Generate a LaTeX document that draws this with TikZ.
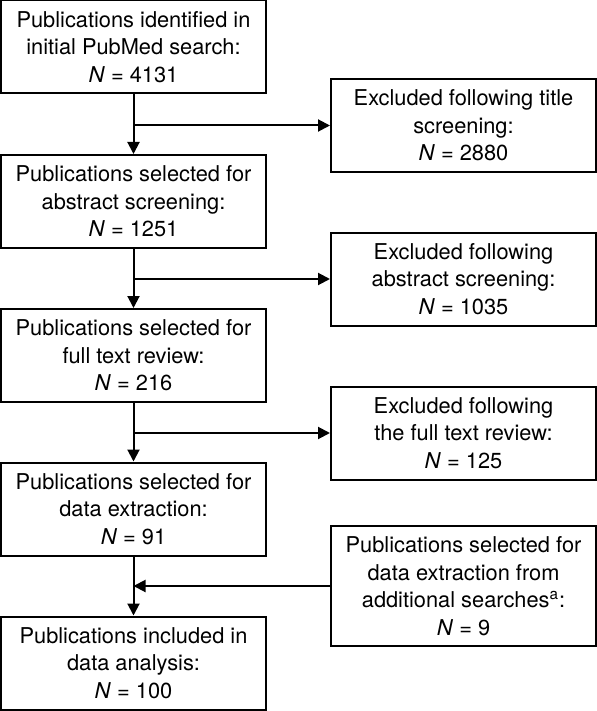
\documentclass[tikz,border=0pt]{standalone}
\usepackage{fontspec}
\setmainfont{TeX Gyre Heros}
\usetikzlibrary{arrows.meta}
\tikzset{
  flowbox/.style={draw, line width=1pt, minimum width=132.5pt, minimum height=46.5pt, inner sep=0pt, align=center, font=\fontsize{10.9}{13.75}\selectfont},
  flowarrow/.style={line width=1pt, -{Triangle[length=6pt,width=6pt]}}
}
\begin{document}
\begin{tikzpicture}[x=0.5pt,y=0.5pt,yscale=-1,xscale=1]
    \useasboundingbox (0,0) rectangle (597,711);

    % Main boxes
    \node[flowbox] (ident) at (133.5,47) {Publications identified in\\initial PubMed search:\\\textit{N} = 4131};
    \node[flowbox] (abstr) at (133.5,201.5) {Publications selected for\\abstract screening:\\\textit{N} = 1251};
    \node[flowbox] (fulltext) at (133.5,355.5) {Publications selected for\\full text review:\\\textit{N} = 216};
    \node[flowbox] (extract) at (133.5,509) {Publications selected for\\data extraction:\\\textit{N} = 91};
    \node[flowbox] (analysis) at (133.5,663) {Publications included in\\data analysis:\\\textit{N} = 100};

    % Side boxes
    \node[flowbox] (exctitle) at (463.5,125.5) {Excluded following title\\screening:\\\textit{N} = 2880};
    \node[flowbox] (excabstr) at (463.5,279) {Excluded following\\abstract screening:\\\textit{N} = 1035};
    \node[flowbox] (excfull) at (463.5,433) {Excluded following\\the full text review:\\\textit{N} = 125};
    \node[flowbox, minimum height=60pt] (addsearch) at (463.5,586) {Publications selected for\\data extraction from\\additional searches\textsuperscript{a}:\\\textit{N} = 9};

    % Branch points
    \coordinate (br1) at (ident.south |- exctitle.west);
    \coordinate (br2) at (abstr.south |- excabstr.west);
    \coordinate (br3) at (fulltext.south |- excfull.west);
    \coordinate (br4) at (extract.south |- addsearch.west);

    % Connections
    \draw[flowarrow] (ident) -- (abstr);
    \draw[flowarrow] (abstr) -- (fulltext);
    \draw[flowarrow] (fulltext) -- (extract);
    \draw[flowarrow] (extract) -- (analysis);
    \draw[flowarrow] (br1) -- (exctitle);
    \draw[flowarrow] (br2) -- (excabstr);
    \draw[flowarrow] (br3) -- (excfull);
    \draw[flowarrow] (addsearch) -- (br4);

\end{tikzpicture}
\end{document}
